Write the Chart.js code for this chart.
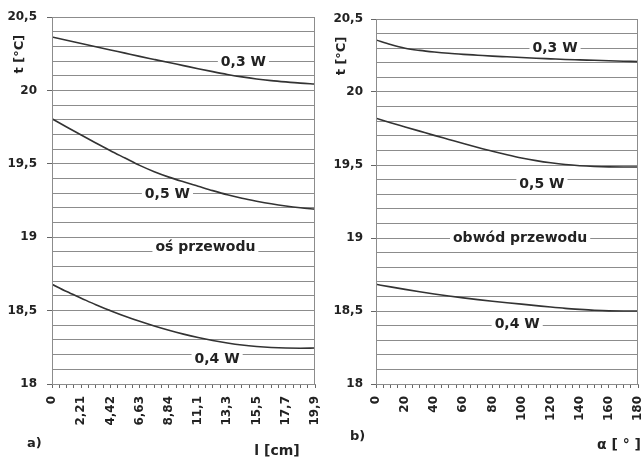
<!DOCTYPE html>
<html>
<head>
<meta charset="utf-8">
<script src="https://cdn.jsdelivr.net/npm/chart.js@4.4.1/dist/chart.umd.min.js"></script>
<style>
  body { margin: 0; background: #fff; }
  #wrap { position: relative; width: 643px; height: 459px; }
  canvas { position: absolute; top: 0; }
  #leftChart { left: 0; }
  #rightChart { left: 320px; }
  .tag { position: absolute; font: bold 13px "DejaVu Sans", Verdana, sans-serif; color: #222; }
</style>
</head>
<body>
<div id="wrap">
  <canvas id="leftChart" width="320" height="459"></canvas>
  <canvas id="rightChart" width="323" height="459"></canvas>
  <div class="tag" style="left:27px; top:435px;">a)</div>
  <div class="tag" style="left:350px; top:428px;">b)</div>
</div>
<script>
// tick labels on the x axes (every second point of the series)
const lengthTicks = ["0", "2,21", "4,42", "6,63", "8,84", "11,1", "13,3", "15,5", "17,7", "19,9"];
const angleTicks = ["0", "20", "40", "60", "80", "100", "120", "140", "160", "180"];

// a) oś przewodu, 19 points from l = 0 to 19,9 cm
const axis03 = [20.365, 20.343, 20.321, 20.299, 20.277, 20.255, 20.233, 20.212, 20.191, 20.17,
  20.149, 20.129, 20.11, 20.093, 20.079, 20.068, 20.059, 20.051, 20.045];
const axis05 = [19.808, 19.752, 19.697, 19.643, 19.59, 19.54, 19.49, 19.447, 19.41, 19.378,
  19.348, 19.318, 19.29, 19.266, 19.246, 19.228, 19.213, 19.201, 19.192];
const axis04 = [18.68, 18.63, 18.585, 18.54, 18.5, 18.462, 18.427, 18.395, 18.366, 18.34,
  18.317, 18.297, 18.28, 18.266, 18.256, 18.249, 18.245, 18.244, 18.245];

// b) obwód przewodu, 19 points from 0 to 180 deg
const ring03 = [20.356, 20.325, 20.3, 20.285, 20.274, 20.265, 20.258, 20.252, 20.246, 20.241,
  20.236, 20.231, 20.227, 20.223, 20.22, 20.217, 20.214, 20.211, 20.208];
const ring05 = [19.82, 19.79, 19.761, 19.732, 19.703, 19.675, 19.647, 19.62, 19.594, 19.57,
  19.548, 19.53, 19.515, 19.503, 19.495, 19.49, 19.487, 19.486, 19.486];
const ring04 = [18.683, 18.665, 18.648, 18.632, 18.617, 18.603, 18.59, 18.578, 18.567, 18.557,
  18.547, 18.537, 18.527, 18.518, 18.511, 18.505, 18.501, 18.5, 18.5];

// inline labels: [text, point index, value]
const axisNotes = [["0,3 W", 13.1, 20.19], ["0,5 W", 7.9, 19.29], ["oś przewodu", 10.5, 18.93], ["0,4 W", 11.3, 18.17]];
const ringNotes = [["0,3 W", 12.3, 20.30], ["0,5 W", 11.4, 19.37], ["obwód przewodu", 9.9, 19.0], ["0,4 W", 9.7, 18.41]];

const FONT = "'DejaVu Sans', Verdana, sans-serif";
const TEXT = "#222";
const GRID = "#8c8c8c";

function isMajor(v) {
  return Math.abs(v * 2 - Math.round(v * 2)) < 1e-6;
}

// frame, axis titles and text notes on white boxes
const notesPlugin = {
  id: "notes",
  afterDatasetsDraw(chart, args, opts) {
    const ctx = chart.ctx;
    const a = chart.chartArea;
    ctx.save();
    ctx.strokeStyle = GRID;
    ctx.lineWidth = 1;
    ctx.strokeRect(Math.round(a.left) + 0.5, Math.round(a.top) + 0.5,
      Math.round(a.right - a.left) - 1, Math.round(a.bottom - a.top));
    ctx.textAlign = "center";
    ctx.textBaseline = "middle";
    ctx.font = "bold 14px " + FONT;
    (opts.items || []).forEach((n) => {
      const x = chart.scales.x.getPixelForValue(n[1]);
      const y = chart.scales.y.getPixelForValue(n[2]);
      const w = ctx.measureText(n[0]).width;
      ctx.fillStyle = "#fff";
      ctx.fillRect(x - w / 2 - 3, y - 7, w + 6, 14);
      ctx.fillStyle = TEXT;
      ctx.fillText(n[0], x, y);
    });
    // x title
    ctx.fillText(opts.xTitle, a.right - opts.xTitleDx, a.bottom + opts.xTitleDy);
    // y title
    ctx.font = "bold 13px " + FONT;
    ctx.translate(a.left - opts.yTitleDx, a.top + 37);
    ctx.rotate(-Math.PI / 2);
    ctx.fillText("t [°C]", 0, 0);
    ctx.restore();
  },
};

function lineSet(data) {
  return {
    data: data.map((v, i) => ({ x: i, y: v })),
    borderColor: "#333",
    borderWidth: 1.6,
    pointRadius: 0,
    cubicInterpolationMode: "monotone",
    fill: false,
  };
}

function makeChart(id, tickLabels, series, notes, cfg) {
  return new Chart(document.getElementById(id), {
    type: "line",
    data: { datasets: series.map(lineSet) },
    options: {
      responsive: false,
      animation: false,
      layout: { padding: cfg.pad },
      plugins: {
        legend: { display: false },
        tooltip: { enabled: false },
        notes: {
          items: notes,
          xTitle: cfg.xTitle,
          xTitleDx: cfg.xTitleDx,
          xTitleDy: cfg.xTitleDy,
          yTitleDx: cfg.yTitleDx,
        },
      },
      scales: {
        x: {
          type: "linear",
          min: 0,
          max: 18,
          afterFit: (s) => {
            s.height = 50;
            s.paddingLeft = 0;
            s.paddingRight = 0;
          },
          border: { color: GRID },
          grid: { drawOnChartArea: false, drawTicks: true, tickLength: 4, color: "#666" },
          ticks: {
            stepSize: 0.5,
            autoSkip: false,
            minRotation: 90,
            maxRotation: 90,
            color: TEXT,
            font: { family: FONT, size: 12, weight: "bold" },
            padding: 8,
            callback: (v) => (v % 2 === 0 ? tickLabels[v / 2] : ""),
          },
        },
        y: {
          min: 18,
          max: 20.5,
          afterFit: (s) => { s.width = cfg.yWidth; },
          border: { color: GRID },
          grid: {
            color: GRID,
            tickLength: 5,
            tickColor: (c) => (c.tick && isMajor(c.tick.value) ? "#666" : "rgba(0,0,0,0)"),
          },
          ticks: {
            stepSize: 0.1,
            autoSkip: false,
            color: TEXT,
            font: { family: FONT, size: 12, weight: "bold" },
            padding: cfg.yPad,
            callback: (v) => (isMajor(v) ? String(Math.round(v * 2) / 2).replace(".", ",") : ""),
          },
        },
      },
    },
    plugins: [notesPlugin],
  });
}

makeChart("leftChart", lengthTicks, [axis03, axis05, axis04], axisNotes, {
  pad: { left: 7, right: 5, top: 16, bottom: 25 },
  yWidth: 45, yPad: 10,
  xTitle: "l [cm]", xTitleDx: 38, xTitleDy: 67,
  yTitleDx: 32,
});
makeChart("rightChart", angleTicks, [ring03, ring05, ring04], ringNotes, {
  pad: { left: 11, right: 5, top: 19, bottom: 25 },
  yWidth: 45, yPad: 8,
  xTitle: "α [ ° ]", xTitleDx: 19, xTitleDy: 61,
  yTitleDx: 34,
});
</script>
</body>
</html>
